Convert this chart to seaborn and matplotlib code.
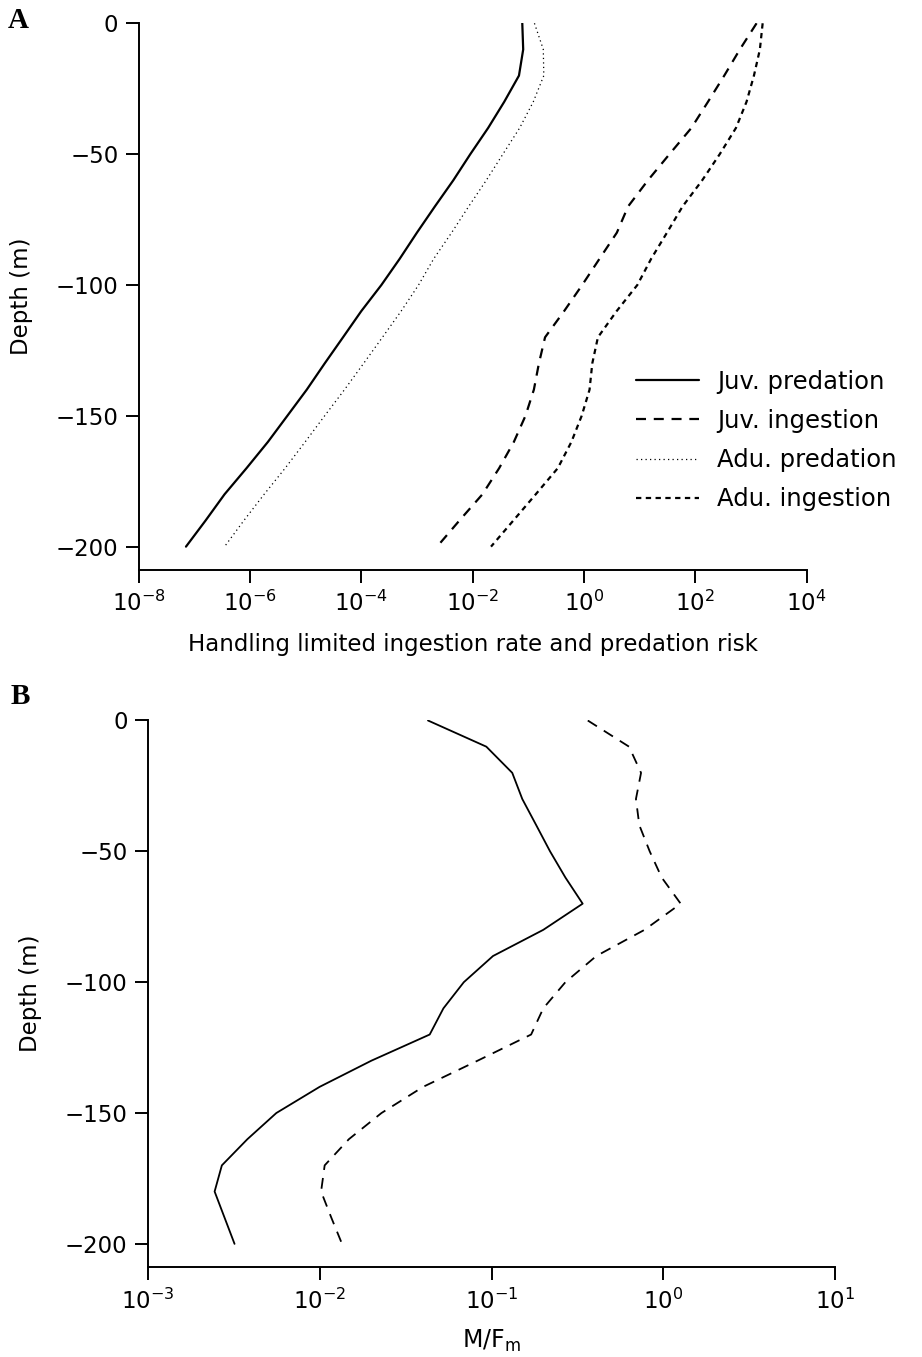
import matplotlib
matplotlib.use("Agg")
import matplotlib.pyplot as plt
import pandas as pd
import seaborn as sns

# ---------------- data ----------------
depth = [0, -10, -20, -30, -40, -50, -60, -70, -80, -90, -100,
         -110, -120, -130, -140, -150, -160, -170, -180, -190, -200]

# Panel A
juv_predation = [7.8e-2, 8.1e-2, 6.8e-2, 3.7e-2, 1.9e-2, 9.1e-3, 4.5e-3, 2.1e-3,
                 1.0e-3, 4.9e-4, 2.3e-4, 1.0e-4, 4.7e-5, 2.2e-5, 1.05e-5, 4.7e-6,
                 2.1e-6, 8.7e-7, 3.5e-7, 1.6e-7, 7.1e-8]
juv_ingestion = [1260, 631, 331, 169, 85, 34.4, 14.1, 6.2, 3.9, 1.9, 0.93,
                 0.44, 0.20, 0.155, 0.126, 0.089, 0.055, 0.030, 0.015, 5.8e-3, 2.3e-3]
adu_predation = [0.129, 0.186, 0.19, 0.123, 0.070, 0.035, 0.0176, 8.5e-3, 4.2e-3,
                 2.0e-3, 1.07e-3, 5.2e-4, 2.4e-4, 1.1e-4, 5.0e-5, 2.2e-5, 9.8e-6,
                 4.3e-6, 1.8e-6, 7.8e-7, 3.5e-7]
adu_ingestion = [1620, 1445, 1130, 832, 537, 275, 133, 59, 31, 16.1, 9.1,
                 3.86, 1.78, 1.41, 1.26, 0.91, 0.594, 0.339, 0.136, 0.054, 0.0214]

# Panel B (M/F_m)
mf_solid = [0.0427, 0.0933, 0.132, 0.151, 0.182, 0.219, 0.269, 0.339, 0.200,
            0.102, 0.069, 0.0525, 0.0437, 0.020, 0.0100, 5.6e-3, 3.8e-3,
            2.7e-3, 2.45e-3, 2.8e-3, 3.2e-3]
mf_dashed = [0.363, 0.631, 0.741, 0.692, 0.724, 0.832, 0.977, 1.26, 0.776,
             0.407, 0.269, 0.200, 0.170, 0.083, 0.040, 0.0229, 0.0148,
             0.0107, 0.0102, 0.0117, 0.0135]

legend_labels = ["Juv. predation", "Juv. ingestion", "Adu. predation", "Adu. ingestion"]
xticks_A = [1e-8, 1e-6, 1e-4, 1e-2, 1e0, 1e2, 1e4]
xticklabels_A = [r"$10^{-8}$", r"$10^{-6}$", r"$10^{-4}$", r"$10^{-2}$",
                 r"$10^{0}$", r"$10^{2}$", r"$10^{4}$"]
xticks_B = [1e-3, 1e-2, 1e-1, 1e0, 1e1]
xticklabels_B = [r"$10^{-3}$", r"$10^{-2}$", r"$10^{-1}$", r"$10^{0}$", r"$10^{1}$"]
yticks = [0, -50, -100, -150, -200]

# ---------------- style ----------------
sns.set_style("ticks")
plt.rcParams['font.family'] = ['DejaVu Sans']
plt.rcParams['mathtext.fontset'] = 'dejavusans'
plt.rcParams['mathtext.default'] = 'regular'
plt.rcParams['axes.linewidth'] = 1.4
plt.rcParams['axes.edgecolor'] = 'black'
plt.rcParams['text.color'] = 'black'
plt.rcParams['axes.labelcolor'] = 'black'
plt.rcParams['xtick.color'] = 'black'
plt.rcParams['ytick.color'] = 'black'

fig = plt.figure(figsize=(9.22, 13.57), dpi=100)
axA = fig.add_axes([0.1503, 0.5802, 0.7246, 0.40265])
axB = fig.add_axes([0.1602, 0.0664, 0.7458, 0.40265])

dfA = pd.DataFrame({"depth": depth, "jp": juv_predation, "ji": juv_ingestion,
                    "ap": adu_predation, "ai": adu_ingestion})
dfB = pd.DataFrame({"depth": depth, "s": mf_solid, "d": mf_dashed})

styles = {
    "jp": dict(linestyle='-', lw=1.6),
    "ji": dict(linestyle=(0, (4.5, 3.5)), lw=1.6),
    "ap": dict(linestyle=(0, (1, 2.6)), lw=0.9),
    "ai": dict(linestyle=(0, (2.4, 2.0)), lw=1.6),
}
for key, lab in zip(["jp", "ji", "ap", "ai"], legend_labels):
    sns.lineplot(data=dfA, x=key, y="depth", sort=False, estimator=None,
                 color='black', label=lab, ax=axA, **styles[key])

sns.lineplot(data=dfB, x="s", y="depth", sort=False, estimator=None,
             color='black', lw=1.3, linestyle='-', ax=axB)
sns.lineplot(data=dfB, x="d", y="depth", sort=False, estimator=None,
             color='black', lw=1.3, linestyle=(0, (6, 4.5)), ax=axB)

for ax, xt, xtl, xlim in [(axA, xticks_A, xticklabels_A, (1e-8, 1e4)),
                          (axB, xticks_B, xticklabels_B, (1e-3, 1e1))]:
    ax.set_xscale('log')
    ax.set_xlim(*xlim)
    ax.set_ylim(-208.8, 0)
    ax.set_xticks(xt)
    ax.set_xticklabels(xtl)
    ax.minorticks_off()
    ax.set_yticks(yticks)
    ax.set_yticklabels([str(v).replace('-', '\u2212') for v in yticks])
    ax.tick_params(axis='both', direction='out', length=9.5, width=1.4,
                   labelsize=16.5, colors='black')
    ax.tick_params(axis='y', pad=5)
    ax.tick_params(axis='x', pad=6)
    sns.despine(ax=ax)
    ax.set_ylabel("Depth (m)", fontsize=16.5)

axA.yaxis.set_label_coords(-0.158, 0.5)
axB.yaxis.set_label_coords(-0.154, 0.5)
axA.set_xlabel("Handling limited ingestion rate and predation risk", fontsize=16.5, labelpad=12)
axB.set_xlabel(r"M/F$_m$", fontsize=17, labelpad=10)

leg = axA.legend(loc='center left', bbox_to_anchor=(0.7445, 0.2364), frameon=False,
                 fontsize=17.5, handlelength=2.6, handletextpad=0.75,
                 labelspacing=0.62, borderpad=0, borderaxespad=0)

fig.text(18 / 922, 1 - 20 / 1357, "A", fontsize=21, fontweight='bold',
         family='Liberation Serif', ha='center', va='center')
fig.text(20 / 922, 1 - 697 / 1357, "B", fontsize=21, fontweight='bold',
         family='Liberation Serif', ha='center', va='center')

fig.savefig("out.png", dpi=100)
